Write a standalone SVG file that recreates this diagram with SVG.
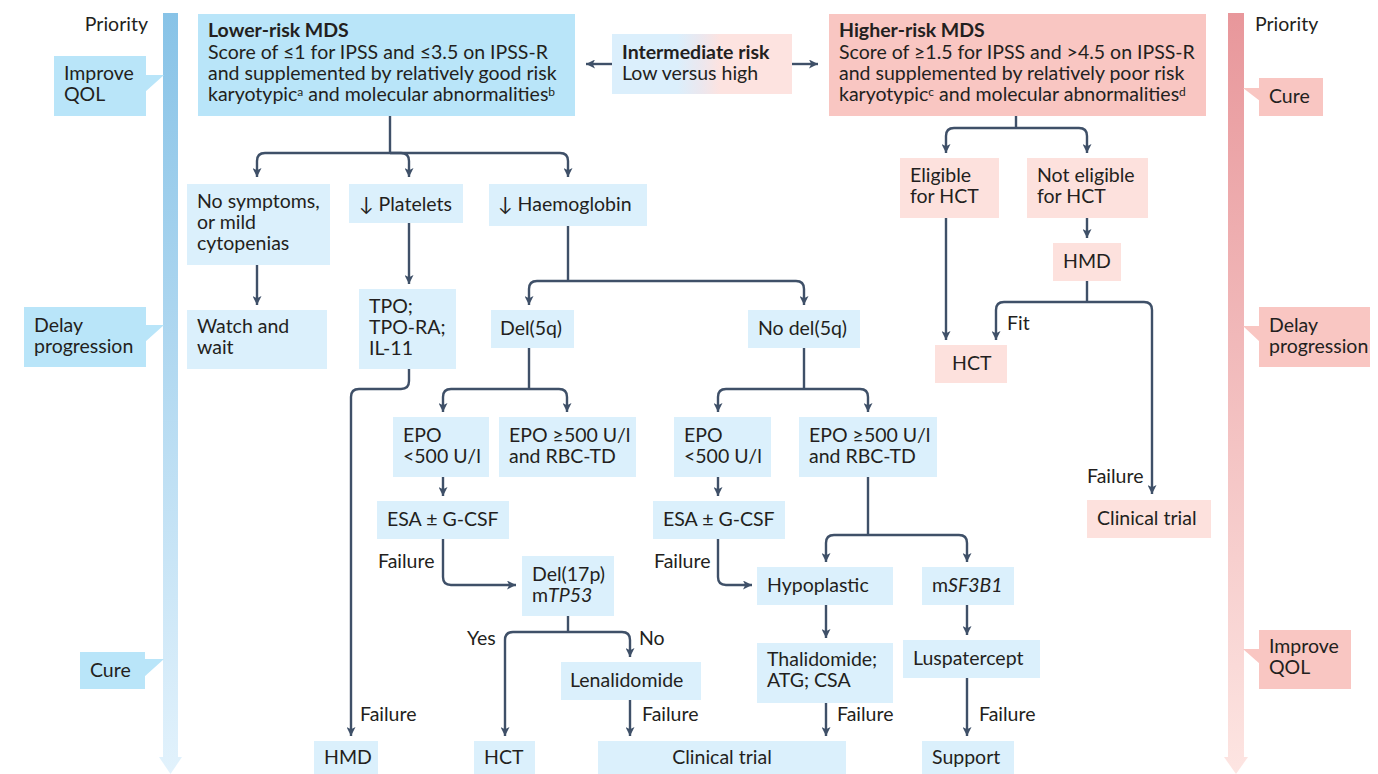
<svg xmlns="http://www.w3.org/2000/svg" width="1378" height="774" viewBox="0 0 1378 774">
<defs>
<style>
text{font-family:Lato,"Liberation Sans",sans-serif;font-size:19.5px;fill:#231f20}
.b{font-weight:bold}
.i{font-style:italic}
.sup{font-size:12px}
.lb{fill:#dbf0fc}
.hb{fill:#b9e5f9}
.lp{fill:#fde1dd}
.hp{fill:#f9c6c2}
.c{fill:none;stroke:#3f5068;stroke-width:2.4}
.a{marker-end:url(#ah)}
</style>
<marker id="ah" viewBox="0 0 10 10" refX="10" refY="5" markerWidth="9" markerHeight="9" markerUnits="userSpaceOnUse" orient="auto">
<path d="M0,0 L10,5 L0,10 L2.5,5 z" fill="#3f5068"/>
</marker>
<linearGradient id="gl" gradientUnits="userSpaceOnUse" x1="0" y1="13" x2="0" y2="774">
<stop offset="0" stop-color="#88c3e7"/><stop offset="1" stop-color="#e2f2fc"/>
</linearGradient>
<linearGradient id="gr" gradientUnits="userSpaceOnUse" x1="0" y1="13" x2="0" y2="774">
<stop offset="0" stop-color="#e8979b"/><stop offset="1" stop-color="#fde5e2"/>
</linearGradient>
<linearGradient id="gi" gradientUnits="userSpaceOnUse" x1="612" y1="0" x2="792" y2="0">
<stop offset="0" stop-color="#dbeffc"/><stop offset="0.36" stop-color="#dbeffc"/><stop offset="0.5" stop-color="#ece7ee"/><stop offset="0.6" stop-color="#fde3e0"/><stop offset="1" stop-color="#fde3e0"/>
</linearGradient>
</defs>

<g id="priority-left">
<rect x="163" y="13" width="15" height="745" fill="url(#gl)"/>
<polygon points="159,757 182,757 170.5,774" fill="url(#gl)"/>
<text x="148" y="31" text-anchor="end">Priority</text>
</g>
<g id="left-improve-qol">
<rect class="hb" x="54" y="56" width="92" height="60"/>
<polygon class="hb" points="145,75 164,75 145,92"/>
<text x="64" y="80">Improve</text><text x="64" y="101">QOL</text>
</g>
<g id="left-delay">
<rect class="hb" x="24" y="307" width="122" height="60"/>
<polygon class="hb" points="145,325 164,325 145,342"/>
<text x="34" y="332">Delay</text><text x="34" y="353">progression</text>
</g>
<g id="left-cure">
<rect class="hb" x="80" y="652" width="65" height="37"/>
<polygon class="hb" points="144,659 164,659 144,677"/>
<text x="90" y="677">Cure</text>
</g>

<g id="priority-right">
<rect x="1228" y="13" width="16" height="745" fill="url(#gr)"/>
<polygon points="1224,757 1248,757 1236,774" fill="url(#gr)"/>
<text x="1255" y="31">Priority</text>
</g>
<g id="right-cure">
<rect class="hp" x="1259" y="78" width="64" height="38"/>
<polygon class="hp" points="1260,88 1243,88 1260,101"/>
<text x="1269" y="103">Cure</text>
</g>
<g id="right-delay">
<rect class="hp" x="1259" y="307" width="111" height="60"/>
<polygon class="hp" points="1260,326 1243,326 1260,342"/>
<text x="1269" y="332">Delay</text><text x="1269" y="353">progression</text>
</g>
<g id="right-improve-qol">
<rect class="hp" x="1259" y="630" width="92" height="59"/>
<polygon class="hp" points="1260,649 1243,649 1260,664"/>
<text x="1269" y="653">Improve</text><text x="1269" y="674">QOL</text>
</g>

<g id="lower-risk">
<rect class="hb" x="198" y="14" width="377" height="102"/>
<text x="208" y="37" class="b">Lower-risk MDS</text>
<text x="208" y="59">Score of ≤1 for IPSS and ≤3.5 on IPSS-R</text>
<text x="208" y="80">and supplemented by relatively good risk</text>
<text x="208" y="101">karyotypic<tspan class="sup" dy="-5">a</tspan><tspan dy="5"> and molecular abnormalities</tspan><tspan class="sup" dy="-5">b</tspan></text>
</g>
<g id="intermediate">
<rect x="612" y="34" width="180" height="60" fill="url(#gi)"/>
<text x="622" y="59" class="b">Intermediate risk</text>
<text x="622" y="80">Low versus high</text>
</g>
<g id="higher-risk">
<rect class="hp" x="829" y="14" width="377" height="102"/>
<text x="839" y="37" class="b">Higher-risk MDS</text>
<text x="839" y="59">Score of ≥1.5 for IPSS and &gt;4.5 on IPSS-R</text>
<text x="839" y="80">and supplemented by relatively poor risk</text>
<text x="839" y="101">karyotypic<tspan class="sup" dy="-5">c</tspan><tspan dy="5"> and molecular abnormalities</tspan><tspan class="sup" dy="-5">d</tspan></text>
</g>

<g id="no-symptoms"><rect class="lb" x="187" y="184" width="143" height="81"/>
<text x="197" y="208">No symptoms,</text><text x="197" y="229">or mild</text><text x="197" y="250">cytopenias</text></g>
<g id="platelets"><rect class="lb" x="349" y="184" width="114" height="39"/><text x="359" y="211">↓ Platelets</text></g>
<g id="haemoglobin"><rect class="lb" x="489" y="184" width="158" height="42"/><text x="498" y="211">↓ Haemoglobin</text></g>
<g id="watch-wait"><rect class="lb" x="187" y="310" width="140" height="59"/><text x="197" y="333">Watch and</text><text x="197" y="354">wait</text></g>
<g id="tpo"><rect class="lb" x="359" y="289" width="97" height="80"/><text x="369" y="313">TPO;</text><text x="369" y="334">TPO-RA;</text><text x="369" y="355">IL-11</text></g>
<g id="del5q"><rect class="lb" x="491" y="310" width="83" height="38"/><text x="500" y="335">Del(5q)</text></g>
<g id="no-del5q"><rect class="lb" x="748" y="310" width="112" height="38"/><text x="758" y="335">No del(5q)</text></g>
<g id="epo-low-l"><rect class="lb" x="393" y="417" width="96" height="60"/><text x="403" y="442">EPO</text><text x="403" y="463">&lt;500 U/l</text></g>
<g id="epo-high-l"><rect class="lb" x="499" y="417" width="137" height="60"/><text x="509" y="442">EPO ≥500 U/l</text><text x="509" y="463">and RBC-TD</text></g>
<g id="epo-low-r"><rect class="lb" x="674" y="417" width="97" height="60"/><text x="684" y="442">EPO</text><text x="684" y="463">&lt;500 U/l</text></g>
<g id="epo-high-r"><rect class="lb" x="799" y="417" width="138" height="60"/><text x="809" y="442">EPO ≥500 U/l</text><text x="809" y="463">and RBC-TD</text></g>
<g id="esa-l"><rect class="lb" x="377" y="501" width="132" height="38"/><text x="387" y="526">ESA ± G-CSF</text></g>
<g id="esa-r"><rect class="lb" x="653" y="501" width="132" height="38"/><text x="663" y="526">ESA ± G-CSF</text></g>
<g id="del17p"><rect class="lb" x="522" y="556" width="92" height="60"/><text x="532" y="581">Del(17p)</text><text x="532" y="602">m<tspan class="i">TP53</tspan></text></g>
<g id="hypoplastic"><rect class="lb" x="757" y="567" width="136" height="38"/><text x="767" y="592">Hypoplastic</text></g>
<g id="msf3b1"><rect class="lb" x="922" y="567" width="92" height="38"/><text x="932" y="592">m<tspan class="i">SF3B1</tspan></text></g>
<g id="lenalidomide"><rect class="lb" x="561" y="662" width="140" height="38"/><text x="570" y="687">Lenalidomide</text></g>
<g id="thalidomide"><rect class="lb" x="757" y="643" width="136" height="60"/><text x="767" y="666">Thalidomide;</text><text x="767" y="687">ATG; CSA</text></g>
<g id="luspatercept"><rect class="lb" x="903" y="640" width="137" height="38"/><text x="913" y="665">Luspatercept</text></g>
<g id="hmd-l"><rect class="lb" x="314" y="741" width="64" height="33"/><text x="324" y="764">HMD</text></g>
<g id="hct-l"><rect class="lb" x="474" y="741" width="61" height="33"/><text x="484" y="764">HCT</text></g>
<g id="clinical-l"><rect class="lb" x="598" y="741" width="248" height="33"/><text x="722" y="764" text-anchor="middle">Clinical trial</text></g>
<g id="support"><rect class="lb" x="922" y="741" width="92" height="33"/><text x="932" y="764">Support</text></g>

<g id="eligible"><rect class="lp" x="900" y="158" width="99" height="60"/><text x="910" y="182">Eligible</text><text x="910" y="203">for HCT</text></g>
<g id="not-eligible"><rect class="lp" x="1027" y="158" width="121" height="60"/><text x="1037" y="182">Not eligible</text><text x="1037" y="203">for HCT</text></g>
<g id="hmd-r"><rect class="lp" x="1053" y="243" width="68" height="38"/><text x="1063" y="268">HMD</text></g>
<g id="hct-r"><rect class="lp" x="935" y="345" width="72" height="38"/><text x="952" y="370">HCT</text></g>
<g id="clinical-r"><rect class="lp" x="1087" y="500" width="124" height="38"/><text x="1097" y="525">Clinical trial</text></g>

<g id="connectors">
<path class="c a" d="M612 64 H586"/>
<path class="c a" d="M792 64 H818"/>
<path class="c" d="M390 116 V153"/>
<path class="c a" d="M390 153 H265 Q257 153 257 161 V177"/>
<path class="c a" d="M390 153 H401 Q409 153 409 161 V177"/>
<path class="c a" d="M390 153 H560 Q568 153 568 161 V177"/>
<path class="c a" d="M257 265 V305"/>
<path class="c a" d="M409 223 V284"/>
<path class="c" d="M568 226 V281"/>
<path class="c a" d="M568 281 H537 Q529 281 529 289 V305"/>
<path class="c a" d="M568 281 H796 Q804 281 804 289 V305"/>
<path class="c a" d="M409 369 V381 Q409 389 401 389 H359 Q351 389 351 397 V736"/>
<path class="c" d="M529 348 V389"/>
<path class="c a" d="M529 389 H451 Q443 389 443 397 V412"/>
<path class="c a" d="M529 389 H559 Q567 389 567 397 V412"/>
<path class="c a" d="M443 477 V496"/>
<path class="c a" d="M443 539 V577 Q443 585 451 585 H516"/>
<path class="c" d="M568 616 V632"/>
<path class="c a" d="M568 632 H513 Q505 632 505 640 V736"/>
<path class="c a" d="M568 632 H622 Q630 632 630 640 V657"/>
<path class="c a" d="M630 700 V736"/>
<path class="c" d="M804 348 V389"/>
<path class="c a" d="M804 389 H726 Q718 389 718 397 V412"/>
<path class="c a" d="M804 389 H860 Q868 389 868 397 V412"/>
<path class="c a" d="M718 477 V496"/>
<path class="c a" d="M718 539 V577 Q718 585 726 585 H752"/>
<path class="c" d="M868 477 V535"/>
<path class="c a" d="M868 535 H834 Q826 535 826 543 V562"/>
<path class="c a" d="M868 535 H959 Q967 535 967 543 V562"/>
<path class="c a" d="M826 605 V638"/>
<path class="c a" d="M826 703 V736"/>
<path class="c a" d="M967 605 V635"/>
<path class="c a" d="M967 678 V736"/>
<path class="c" d="M1016 116 V128"/>
<path class="c a" d="M1016 128 H954 Q946 128 946 136 V153"/>
<path class="c a" d="M1016 128 H1079 Q1087 128 1087 136 V153"/>
<path class="c a" d="M946 218 V340"/>
<path class="c a" d="M1087 218 V238"/>
<path class="c" d="M1087 281 V302"/>
<path class="c a" d="M1087 302 H1004 Q996 302 996 310 V340"/>
<path class="c a" d="M1087 302 H1144 Q1152 302 1152 310 V494"/>
<text x="360" y="721">Failure</text>
<text x="378" y="568">Failure</text>
<text x="654" y="568">Failure</text>
<text x="467" y="645">Yes</text>
<text x="639" y="645">No</text>
<text x="642" y="721">Failure</text>
<text x="837" y="721">Failure</text>
<text x="979" y="721">Failure</text>
<text x="1007" y="330">Fit</text>
<text x="1087" y="483">Failure</text>
</g>
</svg>
